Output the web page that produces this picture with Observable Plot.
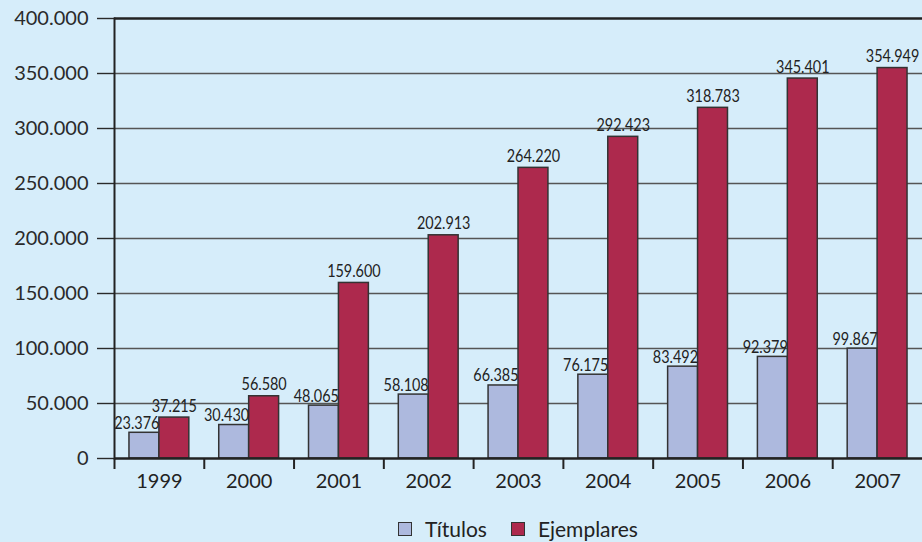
<!DOCTYPE html>
<html>
<head>
<meta charset="utf-8">
<script src="https://cdn.jsdelivr.net/npm/d3@7"></script>
<script src="https://cdn.jsdelivr.net/npm/@observablehq/plot@0.6"></script>
<style>
  html, body { margin: 0; padding: 0; background: #d6edfa; }
  #chart { width: 922px; height: 500px; }
  #legend { width: 808px; margin-left: 114px; height: 42px; box-sizing: border-box; padding-top: 16px;
    display: flex; justify-content: center; align-items: center; font-family: Lato, sans-serif; font-size: 21px; color: #222; line-height: 24px; }
  .item { display: flex; align-items: center; margin: 0 12px; }
  .sw { width: 12px; height: 12px; border: 1.5px solid #333; margin-right: 13px; }
</style>
</head>
<body>
<div id="chart"></div>
<div id="legend"></div>
<script>
const years = ["1999", "2000", "2001", "2002", "2003", "2004", "2005", "2006", "2007"];
const titulos = [23376, 30430, 48065, 58108, 66385, 76175, 83492, 92379, 99867];
const ejemplares = [37215, 56580, 159600, 202913, 264220, 292423, 318783, 345401, 354949];
const yTicks = [0, 50000, 100000, 150000, 200000, 250000, 300000, 350000, 400000];
const seriesNames = ["Títulos", "Ejemplares"];
const seriesColors = ["#adb9de", "#ad294d"];

const fmt = d3.formatLocale({decimal: ",", thousands: ".", grouping: [3]}).format(",");
const titRows = years.map((year, i) => ({year, value: titulos[i]}));
const ejeRows = years.map((year, i) => ({year, value: ejemplares[i]}));

const W = 922, ML = 114, MR = 0;
const step = (W - ML - MR) / years.length;

const chart = Plot.plot({
  width: W, height: 500,
  marginLeft: ML, marginRight: MR, marginTop: 18, marginBottom: 42,
  style: {background: "transparent", fontFamily: "Lato, sans-serif", overflow: "visible"},
  x: {domain: years, padding: 0, round: false, axis: null},
  y: {domain: [0, 400000], axis: null},
  marks: [
    Plot.ruleY(yTicks.filter(t => t > 0 && t < 400000), {stroke: "#555", strokeWidth: 1.4}),
    Plot.axisY({ticks: yTicks, tickSize: 17, tickPadding: 9, tickFormat: fmt, fontSize: 20,
      color: "#2a2a2a", strokeWidth: 1.4, label: null}),
    Plot.barY(titRows, {x: "year", y: "value", fill: seriesColors[0], stroke: "#333", strokeWidth: 1.5,
      insetLeft: step / 6, insetRight: step / 2}),
    Plot.barY(ejeRows, {x: "year", y: "value", fill: seriesColors[1], stroke: "#333", strokeWidth: 1.5,
      insetLeft: step / 2, insetRight: step / 6}),
    Plot.ruleY([400000], {stroke: "#222", strokeWidth: 2.5}),
    Plot.ruleY([0], {stroke: "#222", strokeWidth: 2.5}),
    Plot.frame({anchor: "left", stroke: "#222", strokeWidth: 2}),
    Plot.axisX({tickSize: 11, tickFormat: () => "", dx: -step / 2, stroke: "#222", strokeWidth: 2, label: null}),
    Plot.axisX({tickSize: 0, tickPadding: 15, fontSize: 20, color: "#222", label: null}),
    Plot.text(titRows, {x: "year", y: "value", text: d => fmt(d.value), textAnchor: "end",
      lineAnchor: "bottom", dy: -4, fontSize: 18, fill: "#222"}),
    Plot.text(ejeRows, {x: "year", y: "value", text: d => fmt(d.value), textAnchor: "middle",
      lineAnchor: "bottom", dy: -6, dx: step / 6, fontSize: 18, fill: "#222"})
  ]
});
document.getElementById("chart").append(chart);

// condense the value labels horizontally (the reference uses a narrow face)
requestAnimationFrame(() => {
  chart.querySelectorAll('g[aria-label="text"] text').forEach(t => {
    const w = t.getComputedTextLength();
    t.setAttribute("textLength", (w * 0.8).toFixed(1));
    t.setAttribute("lengthAdjust", "spacingAndGlyphs");
  });
});

const legend = document.getElementById("legend");
seriesNames.forEach((name, i) => {
  const item = document.createElement("div");
  item.className = "item";
  const sw = document.createElement("span");
  sw.className = "sw";
  sw.style.background = seriesColors[i];
  const label = document.createElement("span");
  label.textContent = name;
  item.append(sw, label);
  legend.append(item);
});
</script>
</body>
</html>
